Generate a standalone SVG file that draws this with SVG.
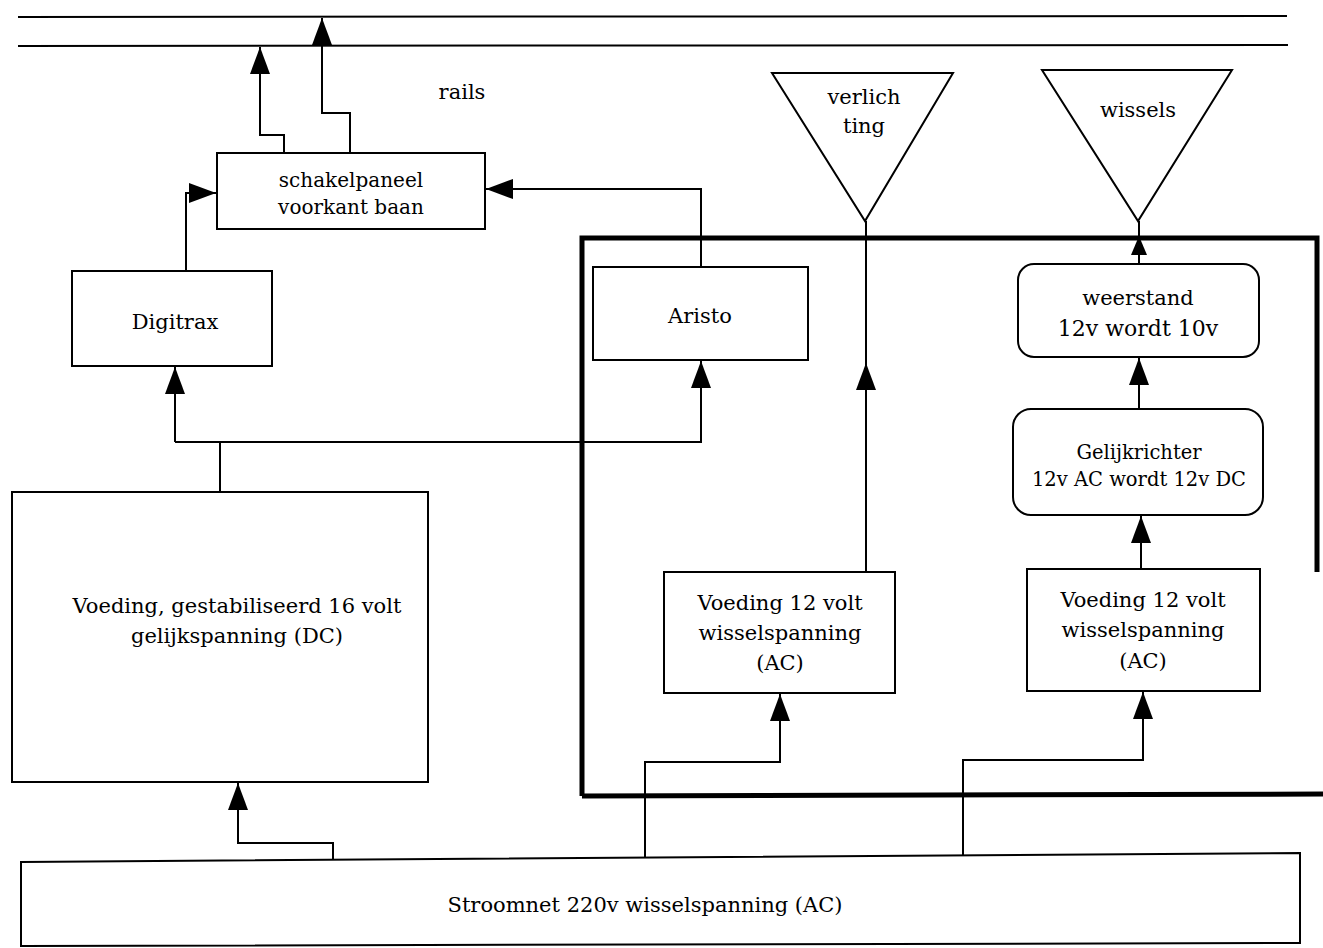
<svg xmlns="http://www.w3.org/2000/svg" width="1323" height="948" viewBox="0 0 1323 948">
<style>
  .box { fill: #fff; stroke: #000; stroke-width: 2; }
  .line { fill: none; stroke: #000; stroke-width: 2; }
  .thick { fill: none; stroke: #000; stroke-width: 5; }
  text { font-family: "DejaVu Serif", "Liberation Serif", serif; font-size: 21px; fill: #000; text-anchor: middle; }
  .small { font-size: 19.5px; }
</style>
<defs>
  <marker id="arr" markerUnits="userSpaceOnUse" markerWidth="28" markerHeight="22" viewBox="0 0 28 22" refX="27" refY="11" orient="auto">
    <path d="M0,1 L27,11 L0,21 z" fill="#000"/>
  </marker>
  <marker id="arrs" markerUnits="userSpaceOnUse" markerWidth="20" markerHeight="18" viewBox="0 0 20 18" refX="19" refY="9" orient="auto">
    <path d="M0,1 L19,9 L0,17 z" fill="#000"/>
  </marker>
</defs>

<g id="rails">
  <line class="line" x1="18" y1="17" x2="1287" y2="16"/>
  <line class="line" x1="18" y1="46" x2="1288" y2="45"/>
  <text x="462" y="99">rails</text>
</g>

<g id="frame">
  <path class="thick" d="M582 796 V238 H1317 V572"/>
  <line class="thick" x1="582" y1="796" x2="1323" y2="794"/>
</g>

<g id="connectors">
  <path class="line" d="M350 153 V113 H322 V18" marker-end="url(#arr)"/>
  <path class="line" d="M284 153 V135 H260 V47" marker-end="url(#arr)"/>
  <path class="line" d="M186 271 V193 H216" marker-end="url(#arr)"/>
  <path class="line" d="M701 267 V189 H486" marker-end="url(#arr)"/>
  <path class="line" d="M220 492 V442" />
  <path class="line" d="M175 442 H701 V361" marker-end="url(#arr)"/>
  <path class="line" d="M175 442 V367" marker-end="url(#arr)"/>
  <path class="line" d="M866 572 V363" marker-end="url(#arr)"/>
  <path class="line" d="M866 363 V221"/>
  <path class="line" d="M1139 264 V236" marker-end="url(#arrs)"/>
  <path class="line" d="M1139 236 V221"/>
  <path class="line" d="M1139 409 V358" marker-end="url(#arr)"/>
  <path class="line" d="M1141 570 V516" marker-end="url(#arr)"/>
  <path class="line" d="M645 859 V762 H780 V694" marker-end="url(#arr)"/>
  <path class="line" d="M963 856 V760 H1143 V692" marker-end="url(#arr)"/>
  <path class="line" d="M333 861 V843 H238 V783" marker-end="url(#arr)"/>
</g>

<g id="schakelpaneel">
  <rect class="box" x="217" y="153" width="268" height="76"/>
  <text x="351" y="187" style="font-size:20px">schakelpaneel</text>
  <text x="351" y="214" style="font-size:20px">voorkant baan</text>
</g>

<g id="digitrax">
  <rect class="box" x="72" y="271" width="200" height="95"/>
  <text x="175" y="329">Digitrax</text>
</g>

<g id="aristo">
  <rect class="box" x="593" y="267" width="215" height="93"/>
  <text x="700" y="323">Aristo</text>
</g>

<g id="verlichting">
  <polygon class="box" points="772,73 953,73 865,221"/>
  <text x="864" y="104">verlich</text>
  <text x="864" y="133">ting</text>
</g>

<g id="wissels">
  <polygon class="box" points="1042,70 1232,70 1138,221"/>
  <text x="1138" y="117">wissels</text>
</g>

<g id="weerstand">
  <rect class="box" x="1018" y="264" width="241" height="93" rx="16"/>
  <text x="1138" y="305">weerstand</text>
  <text x="1138" y="336" style="font-size:22px">12v wordt 10v</text>
</g>

<g id="gelijkrichter">
  <rect class="box" x="1013" y="409" width="250" height="106" rx="18"/>
  <text class="small" x="1139" y="459">Gelijkrichter</text>
  <text class="small" x="1139" y="486">12v AC wordt 12v DC</text>
</g>

<g id="voeding16">
  <rect class="box" x="12" y="492" width="416" height="290"/>
  <text x="237" y="613">Voeding, gestabiliseerd 16 volt</text>
  <text x="237" y="643">gelijkspanning (DC)</text>
</g>

<g id="voeding12a">
  <rect class="box" x="664" y="572" width="231" height="121"/>
  <text x="780" y="610">Voeding 12 volt</text>
  <text x="780" y="640">wisselspanning</text>
  <text x="780" y="670">(AC)</text>
</g>

<g id="voeding12b">
  <rect class="box" x="1027" y="569" width="233" height="122"/>
  <text x="1143" y="607">Voeding 12 volt</text>
  <text x="1143" y="637">wisselspanning</text>
  <text x="1143" y="668">(AC)</text>
</g>

<g id="stroomnet">
  <polygon class="box" points="21,862 1300,853 1300,943 21,946"/>
  <text x="645" y="912">Stroomnet 220v wisselspanning (AC)</text>
</g>
</svg>
